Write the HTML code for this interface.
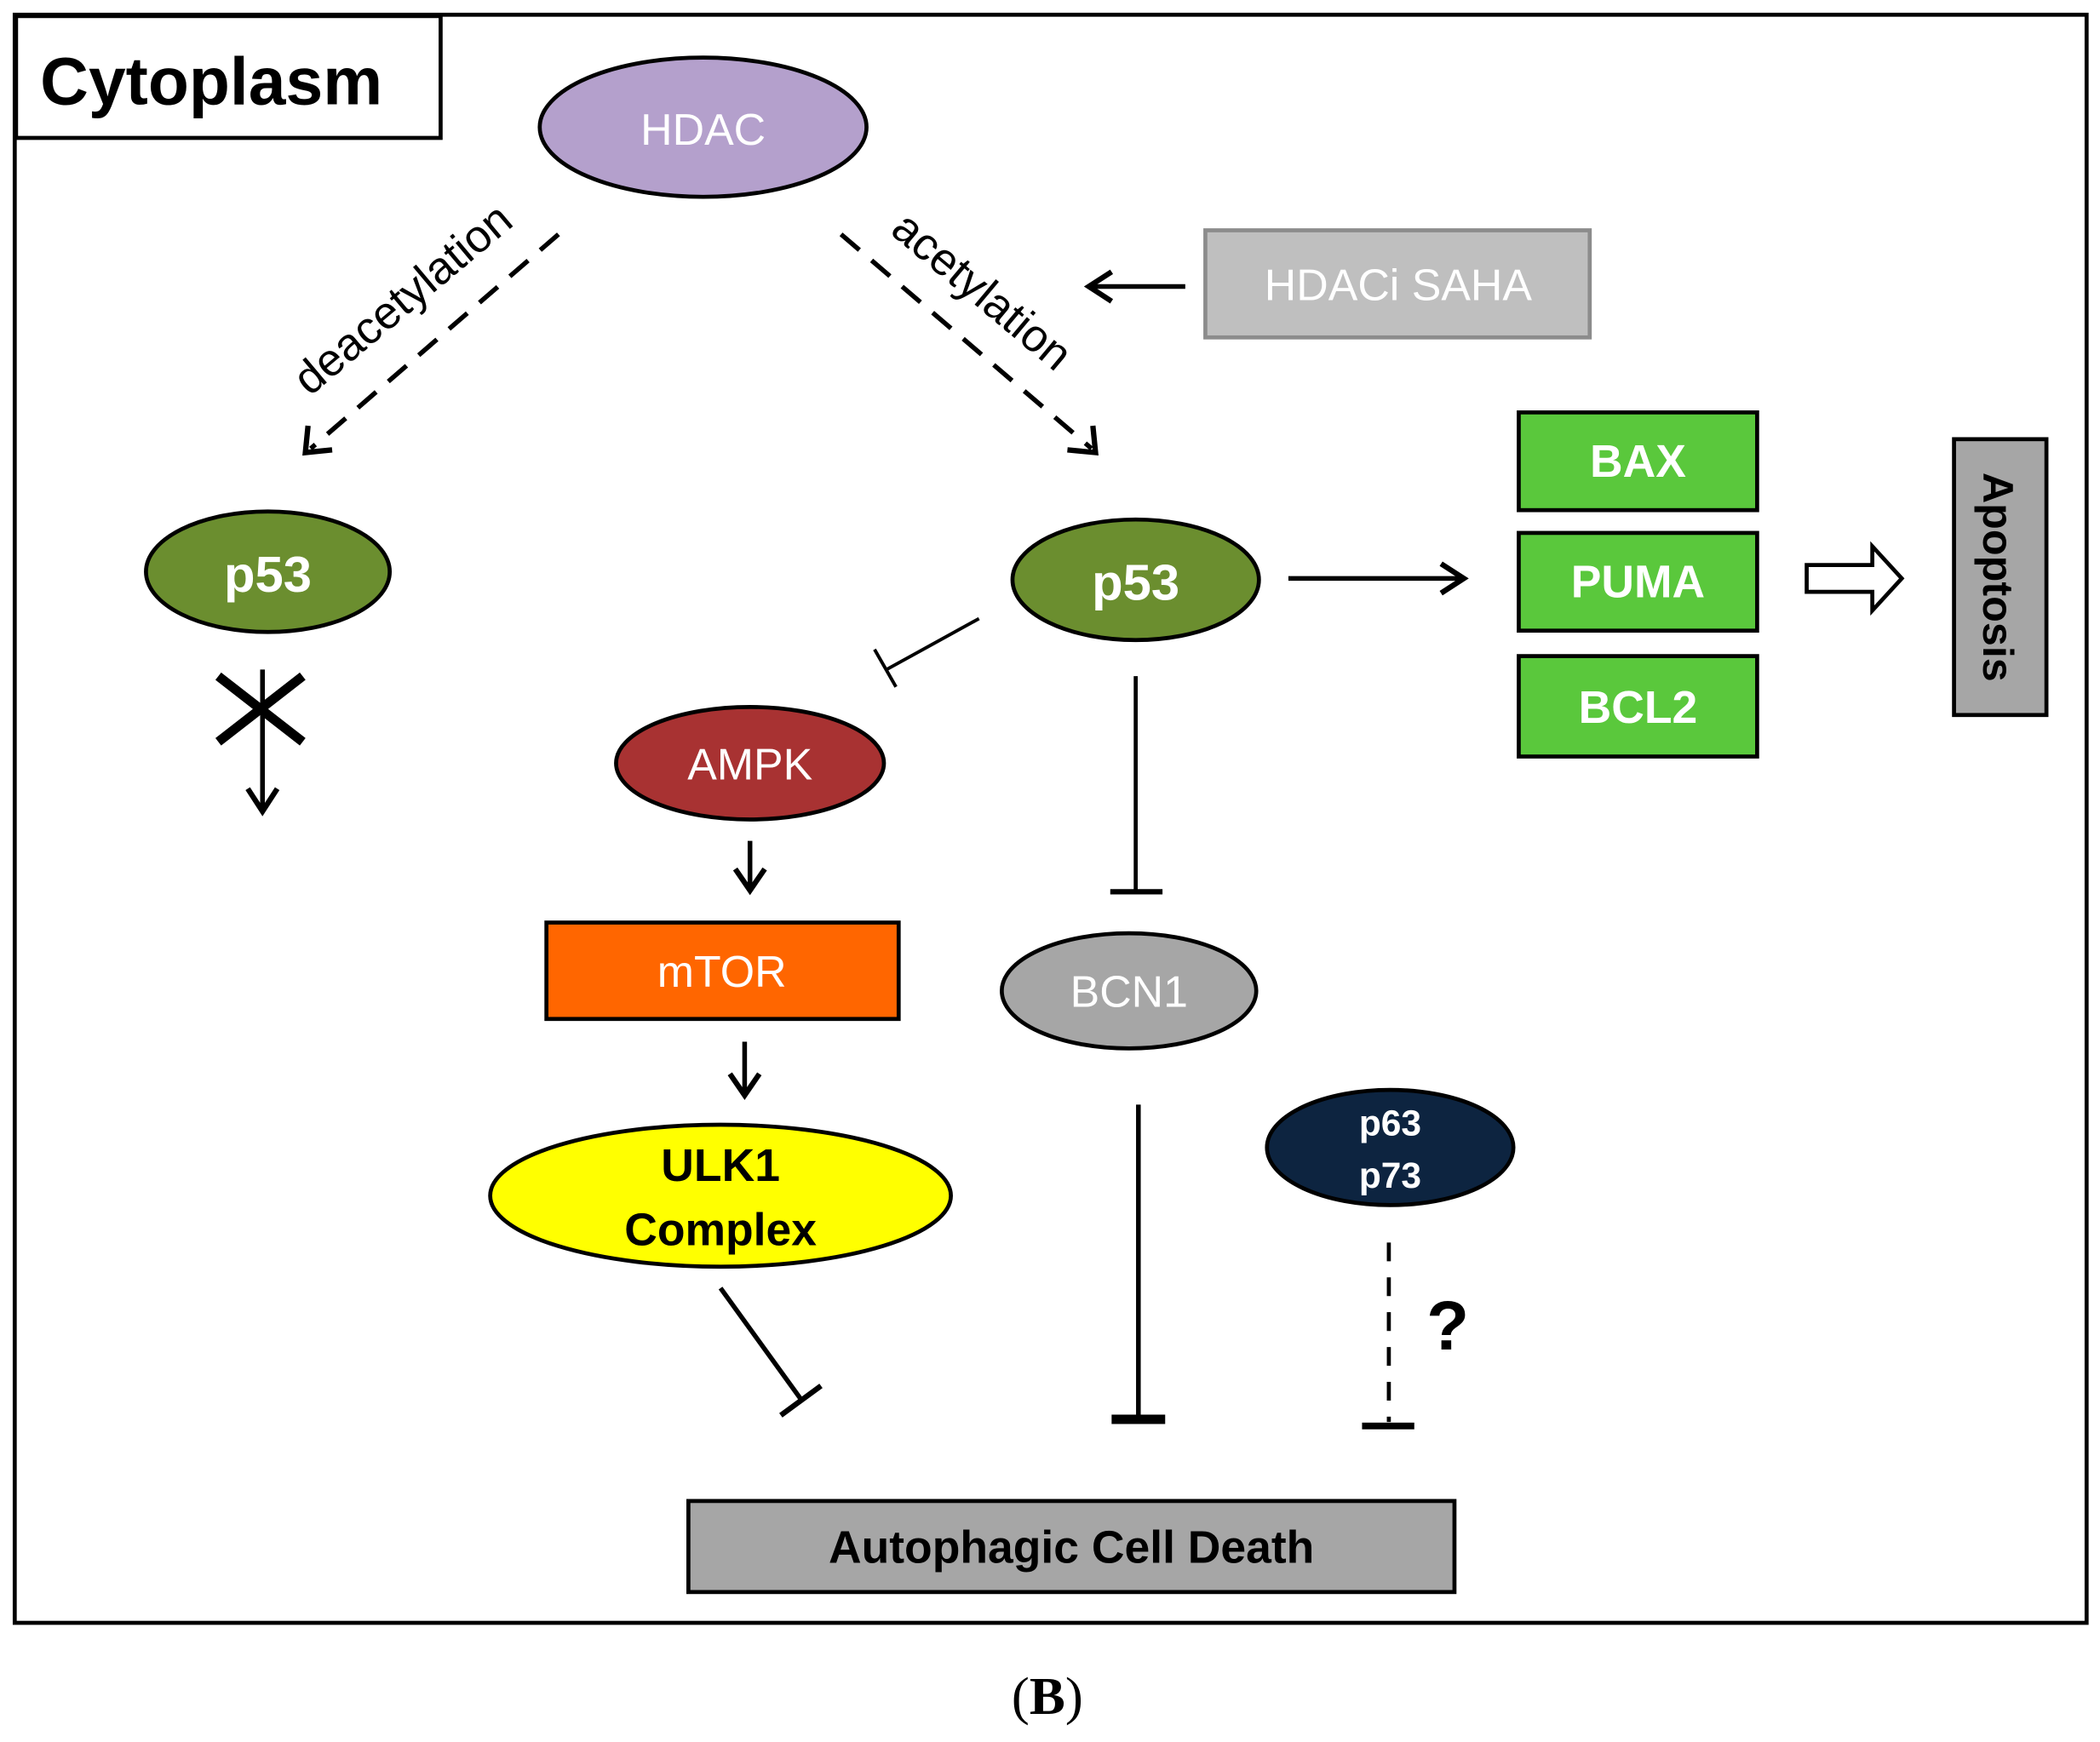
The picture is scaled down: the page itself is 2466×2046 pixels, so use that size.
<!DOCTYPE html>
<html><head><meta charset="utf-8"><style>
html,body{margin:0;padding:0;background:#fff;}
svg{display:block;}
text{font-family:"Liberation Sans",sans-serif;}
</style></head><body>
<svg width="2466" height="2046" viewBox="0 0 1568 1301" preserveAspectRatio="none" xmlns="http://www.w3.org/2000/svg">
<rect width="1568" height="1301" fill="#fff"/>
<rect x="11" y="11" width="1547" height="1201" fill="none" stroke="#000" stroke-width="3"/>
<rect x="12" y="12" width="317" height="91" fill="#fff" stroke="#000" stroke-width="3"/>
<text x="30" y="78" font-size="50" font-weight="bold">Cytoplasm</text>

<ellipse cx="525" cy="95" rx="122" ry="52" fill="#b4a0cc" stroke="#000" stroke-width="3"/>
<text x="525" y="108" font-size="33" fill="#fff" text-anchor="middle">HDAC</text>

<rect x="900" y="172" width="287" height="80" fill="#bfbfbf" stroke="#8c8c8c" stroke-width="3"/>
<text x="1044" y="224" font-size="33" fill="#fff" text-anchor="middle">HDACi SAHA</text>
<line x1="885" y1="214" x2="815" y2="214" stroke="#000" stroke-width="3.5"/>
<polyline points="830,203 813,214 830,225" fill="none" stroke="#000" stroke-width="4"/>

<line x1="417" y1="175" x2="232" y2="335" stroke="#000" stroke-width="3.5" stroke-dasharray="18,12"/>
<polyline points="230,318 228,338 248,336" fill="none" stroke="#000" stroke-width="4"/>
<text transform="translate(308,232) rotate(-40)" font-size="34" text-anchor="middle">deacetylation</text>
<line x1="628" y1="175" x2="815" y2="335" stroke="#000" stroke-width="3.5" stroke-dasharray="18,12"/>
<polyline points="797,336 818,338 816,318" fill="none" stroke="#000" stroke-width="4"/>
<text transform="translate(726,226) rotate(40)" font-size="34" text-anchor="middle">acetylation</text>

<ellipse cx="200" cy="427" rx="91" ry="45" fill="#6b8e2f" stroke="#000" stroke-width="3"/>
<text x="200" y="442" font-size="38" font-weight="bold" fill="#fff" text-anchor="middle">p53</text>
<line x1="163" y1="505" x2="226" y2="554" stroke="#000" stroke-width="7"/>
<line x1="226" y1="505" x2="163" y2="554" stroke="#000" stroke-width="7"/>
<line x1="196" y1="500" x2="196" y2="604" stroke="#000" stroke-width="3.5"/>
<polyline points="185,589 196,606 207,589" fill="none" stroke="#000" stroke-width="4"/>

<ellipse cx="848" cy="433" rx="92" ry="45" fill="#6b8e2f" stroke="#000" stroke-width="3"/>
<text x="848" y="448" font-size="38" font-weight="bold" fill="#fff" text-anchor="middle">p53</text>
<line x1="962" y1="432" x2="1092" y2="432" stroke="#000" stroke-width="3.5"/>
<polyline points="1076,421 1093,432 1076,443" fill="none" stroke="#000" stroke-width="4"/>

<rect x="1134" y="308" width="178" height="73" fill="#5ac83c" stroke="#000" stroke-width="3"/>
<text x="1223" y="356" font-size="34" font-weight="bold" fill="#fff" text-anchor="middle">BAX</text>
<rect x="1134" y="398" width="178" height="73" fill="#5ac83c" stroke="#000" stroke-width="3"/>
<text x="1223" y="446" font-size="34" font-weight="bold" fill="#fff" text-anchor="middle">PUMA</text>
<rect x="1134" y="490" width="178" height="75" fill="#5ac83c" stroke="#000" stroke-width="3"/>
<text x="1223" y="540" font-size="34" font-weight="bold" fill="#fff" text-anchor="middle">BCL2</text>

<polygon points="1349,422 1398,422 1398,408 1420,432 1398,456 1398,442 1349,442" fill="#fff" stroke="#000" stroke-width="3"/>

<rect x="1459" y="328" width="69" height="206" fill="#a6a6a6" stroke="#000" stroke-width="3"/>
<text transform="translate(1481,431) rotate(90)" font-size="32" font-weight="bold" text-anchor="middle">Apoptosis</text>

<line x1="731" y1="462" x2="662" y2="500" stroke="#000" stroke-width="2.5"/>
<line x1="653" y1="485" x2="669" y2="513" stroke="#000" stroke-width="2.5"/>

<ellipse cx="560" cy="570" rx="100" ry="42" fill="#a83232" stroke="#000" stroke-width="3"/>
<text x="560" y="582" font-size="33" fill="#fff" text-anchor="middle">AMPK</text>
<line x1="560" y1="628" x2="560" y2="662" stroke="#000" stroke-width="3.5"/>
<polyline points="549,649 560,665 571,649" fill="none" stroke="#000" stroke-width="4"/>

<rect x="408" y="689" width="263" height="72" fill="#ff6600" stroke="#000" stroke-width="3"/>
<text x="539" y="737" font-size="33" fill="#fff" text-anchor="middle">mTOR</text>
<line x1="556" y1="778" x2="556" y2="815" stroke="#000" stroke-width="3.5"/>
<polyline points="545,802 556,818 567,802" fill="none" stroke="#000" stroke-width="4"/>

<ellipse cx="538" cy="893" rx="172" ry="53" fill="#ffff00" stroke="#000" stroke-width="3"/>
<text x="538" y="882" font-size="34" font-weight="bold" text-anchor="middle">ULK1</text>
<text x="538" y="930" font-size="34" font-weight="bold" text-anchor="middle">Complex</text>
<line x1="538" y1="962" x2="598" y2="1045" stroke="#000" stroke-width="3.5"/>
<line x1="583" y1="1057" x2="613" y2="1035" stroke="#000" stroke-width="4"/>

<line x1="848" y1="505" x2="848" y2="665" stroke="#000" stroke-width="3"/>
<line x1="829" y1="666" x2="868" y2="666" stroke="#000" stroke-width="4"/>

<ellipse cx="843" cy="740" rx="95" ry="43" fill="#a6a6a6" stroke="#000" stroke-width="3"/>
<text x="843" y="752" font-size="33" fill="#fff" text-anchor="middle">BCN1</text>
<line x1="850" y1="825" x2="850" y2="1058" stroke="#000" stroke-width="3.5"/>
<line x1="830" y1="1060" x2="870" y2="1060" stroke="#000" stroke-width="7"/>

<ellipse cx="1038" cy="857" rx="92" ry="43" fill="#0d2440" stroke="#000" stroke-width="3"/>
<text x="1038" y="848" font-size="27" font-weight="bold" fill="#fff" text-anchor="middle">p63</text>
<text x="1038" y="887" font-size="27" font-weight="bold" fill="#fff" text-anchor="middle">p73</text>
<line x1="1037" y1="928" x2="1037" y2="1062" stroke="#000" stroke-width="3" stroke-dasharray="14,12"/>
<line x1="1017" y1="1065" x2="1056" y2="1065" stroke="#000" stroke-width="5"/>
<text x="1081" y="1008" font-size="52" font-weight="bold" text-anchor="middle">?</text>

<rect x="514" y="1121" width="572" height="68" fill="#a6a6a6" stroke="#000" stroke-width="3"/>
<text x="800" y="1167" font-size="34" font-weight="bold" text-anchor="middle">Autophagic Cell Death</text>

<text x="782" y="1280" font-size="40" text-anchor="middle" style="font-family:'Liberation Serif',serif">(<tspan font-weight="bold">B</tspan>)</text>
</svg>
</body></html>
